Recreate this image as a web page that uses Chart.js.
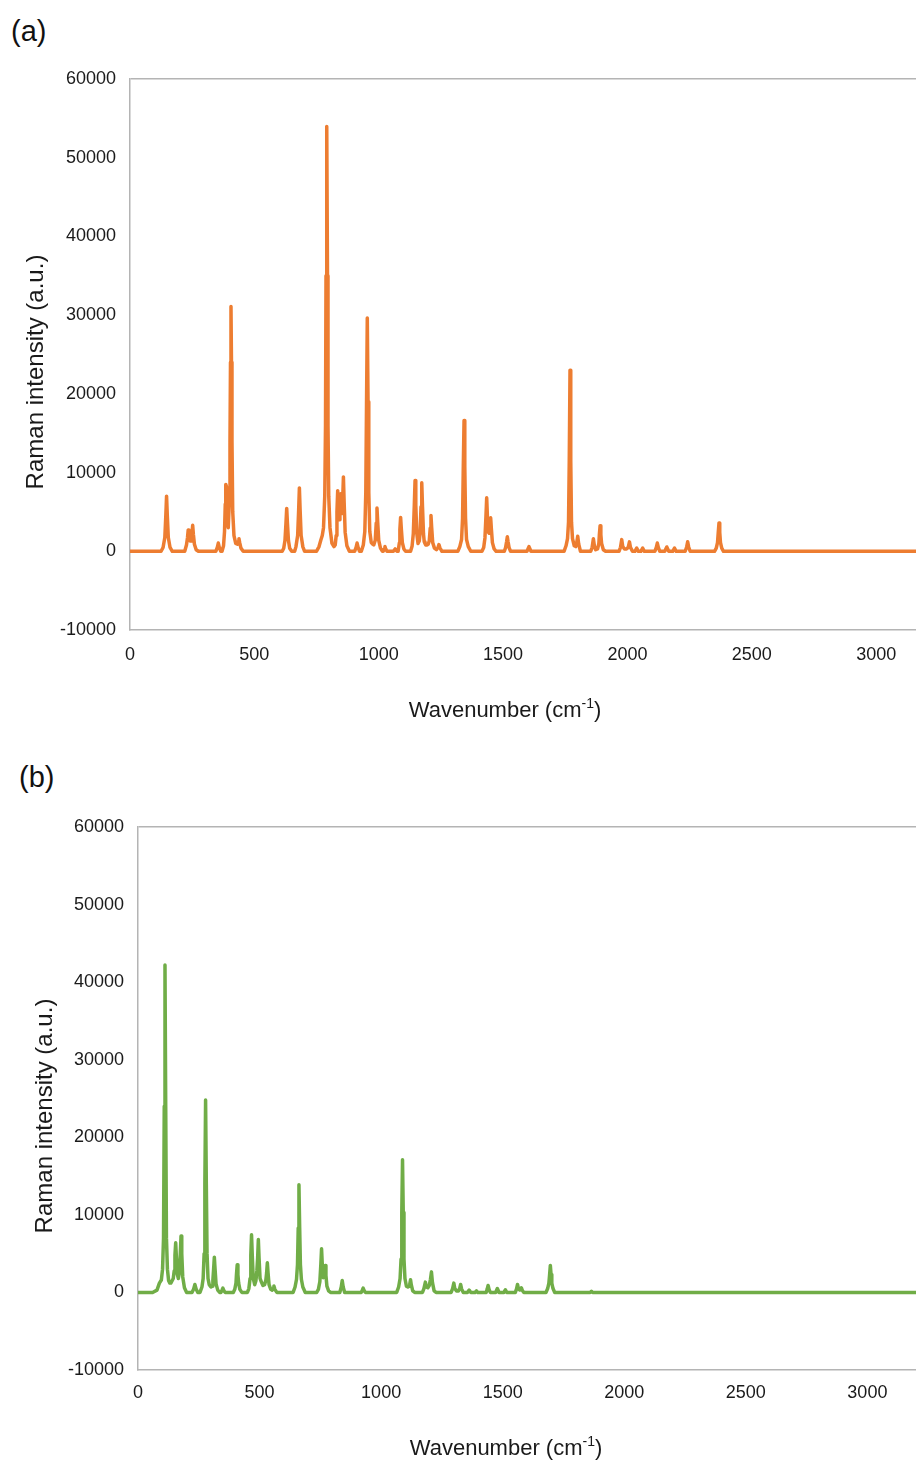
<!DOCTYPE html>
<html>
<head>
<meta charset="utf-8">
<script src="https://cdn.jsdelivr.net/npm/chart.js@4.4.1/dist/chart.umd.min.js"></script>
<style>
  html, body { margin: 0; padding: 0; background: #fff; }
  body { width: 916px; height: 1465px; position: relative; overflow: hidden; font-family: "Liberation Sans", Arial, sans-serif; }
  .panel { position: absolute; left: 0; width: 916px; }
  .tag { position: absolute; font-size: 29px; color: #111; line-height: 1; }
</style>
</head>
<body>
<div class="tag" style="left:11px; top:17px;">(a)</div>
<div class="tag" style="left:19px; top:763px;">(b)</div>
<div class="panel" style="top:0; height:735px;"><canvas id="chartA"></canvas></div>
<div class="panel" style="top:735px; height:730px;"><canvas id="chartB"></canvas></div>
<script>
// Spectrum (a): wavenumber (cm-1) and Raman intensity (a.u.)
const wavenumberA = [
  0, 125, 133, 140, 144, 147, 150, 154, 161, 170,
  220, 227, 231, 234, 237, 242, 246, 249, 252, 255, 259, 266, 275,
  345, 351, 355, 359, 365,
  370, 376, 380, 383, 385, 388, 391, 395, 399, 402, 404, 406, 408, 410, 413, 418, 425, 432, 435, 438, 441, 446, 455,
  612, 618, 623, 627, 630, 633, 637, 642, 650,
  662, 667, 674, 678, 681, 684, 688, 695, 702,
  750, 760, 767, 773, 778, 783, 786, 788, 791, 794, 796, 799, 804, 812, 820,
  825, 829, 832, 835, 838, 841, 844, 847, 850, 852, 855, 858, 861, 865, 872, 882,
  903, 909, 913, 917, 923,
  930, 938, 944, 948, 951, 954, 957, 960, 964, 970, 976,
  980, 986, 990, 993, 996, 1000, 1007, 1015,
  1018, 1022, 1025, 1028, 1033,
  1059, 1066, 1073,
  1078, 1083, 1085, 1088, 1091, 1095, 1101, 1108,
  1128, 1134, 1139, 1143, 1146, 1149, 1153, 1158, 1163, 1166, 1170, 1173, 1176, 1180, 1183, 1186, 1189, 1192, 1195, 1199, 1203, 1207, 1210, 1213, 1217, 1224, 1232, 1238, 1242, 1246, 1254,
  1318, 1326, 1333, 1337, 1340, 1343, 1346, 1349, 1353, 1360, 1370,
  1415, 1422, 1427, 1431, 1434, 1437, 1441, 1444, 1447, 1450, 1453, 1457, 1464, 1472,
  1505, 1510, 1514, 1517, 1520, 1524, 1530,
  1596, 1600, 1604, 1608, 1612,
  1745, 1753, 1759, 1763, 1766, 1769, 1772, 1775, 1779, 1786, 1792,
  1795, 1800, 1804, 1811,
  1852, 1858, 1863, 1867, 1872,
  1880, 1885, 1887, 1890, 1893, 1896, 1903, 1912,
  1966, 1972, 1977, 1981, 1988, 1996, 2003, 2008, 2012, 2020,
  2030, 2037, 2044,
  2054, 2061, 2068,
  2110, 2116, 2120, 2124, 2130,
  2150, 2158, 2166,
  2182, 2189, 2196,
  2232, 2238, 2242, 2246, 2252,
  2350, 2357, 2362, 2365, 2368, 2371, 2374, 2379, 2386,
  3250
];
const intensityA = [
  0, 0, 490, 1750, 4550, 7000, 4550, 1750, 490, 0,
  0, 800, 1700, 2700, 1700, 1300, 1300, 2200, 3300, 2100, 900, 200, 0,
  0, 500, 1050, 500, 0,
  0, 700, 2500, 6000, 8500, 8200, 5000, 3000, 6000, 14000, 24000, 31100, 24000, 14000, 5000, 2000, 1000, 900, 1200, 1600, 1100, 400, 0,
  0, 380, 1360, 3540, 5450, 3540, 1360, 380, 0,
  0, 560, 2000, 5200, 8050, 5200, 2000, 560, 0,
  0, 600, 1400, 2000, 3000, 7000, 16000, 35000, 53950, 35000, 16000, 7000, 3000, 1000, 600,
  800, 2000, 5000, 7700, 5000, 4000, 5000, 7300, 5000, 4800, 6500, 9450, 6200, 2400, 700, 0,
  0, 500, 1050, 500, 0,
  0, 800, 2500, 7500, 19000, 29650, 19000, 7500, 2500, 1100, 900,
  800, 1400, 3600, 5500, 3600, 1400, 400, 0,
  0, 300, 600, 300, 0,
  0, 300, 0,
  0, 1100, 2800, 4300, 2800, 1100, 300, 0,
  0, 630, 2250, 5850, 9000, 5850, 2250, 1000, 1300, 2200, 5650, 8700, 5650, 2200, 1200, 1000, 800, 900, 800, 900, 1300, 2950, 4550, 2950, 1100, 400, 200, 450, 850, 450, 0,
  0, 600, 1500, 4200, 10800, 16600, 10800, 4200, 1500, 600, 0,
  0, 480, 1700, 4400, 6800, 4400, 2400, 2300, 3000, 4250, 2800, 1100, 300, 0,
  0, 460, 1200, 1850, 1200, 460, 0,
  0, 300, 600, 300, 0,
  0, 700, 1600, 3700, 11500, 23000, 11500, 3700, 1600, 700, 600,
  900, 1900, 900, 0,
  0, 500, 1600, 700, 200,
  300, 1000, 2100, 3250, 2100, 1000, 200, 0,
  0, 500, 1480, 600, 300, 300, 500, 1200, 500, 0,
  0, 400, 0,
  0, 400, 0,
  0, 500, 1050, 500, 0,
  0, 550, 0,
  0, 400, 0,
  0, 550, 1200, 550, 0,
  0, 400, 1100, 2400, 3600, 2400, 1100, 400, 0,
  0
];

// Spectrum (b): wavenumber (cm-1) and Raman intensity (a.u.)
const wavenumberB = [
  0, 60, 78, 88, 96, 101, 105, 108, 111, 114, 117, 121, 126, 131,
  135, 145, 149, 152, 155, 158, 162, 166, 170, 174, 177, 180, 184, 191, 200,
  222, 229, 234, 239, 246,
  255, 263, 268, 272, 275, 278, 281, 284, 288, 293, 300,
  305, 308, 311, 314, 317, 321, 328, 336,
  341, 345, 349, 353, 358,
  392, 398, 403, 405, 408, 411, 414, 419, 427,
  450, 456, 461, 464, 467, 470, 474, 480, 485, 489, 492, 495, 498, 502, 508, 514, 521, 526, 529, 532, 535, 539, 546, 552, 556, 559, 563, 571,
  638, 646, 652, 656, 659, 662, 665, 668, 672, 678, 688,
  735, 742, 748, 752, 755, 758, 762, 766, 768, 770, 773, 777, 784, 792,
  830, 836, 840, 844, 850,
  918, 922, 926, 930, 935,
  1064, 1072, 1078, 1082, 1085, 1088, 1091, 1094, 1098, 1104, 1110,
  1115, 1118, 1121, 1124, 1130, 1138,
  1170, 1176, 1182, 1186, 1192, 1198, 1203, 1207, 1211, 1218, 1226,
  1288, 1294, 1299, 1303, 1310, 1318, 1323, 1327, 1331, 1338,
  1355, 1362, 1369,
  1386, 1392, 1398,
  1432, 1436, 1440, 1444, 1449,
  1471, 1478, 1485,
  1505, 1511, 1517,
  1552, 1557, 1561, 1565, 1570, 1574, 1577, 1581, 1587,
  1678, 1685, 1690, 1693, 1696, 1699, 1702, 1707, 1714,
  1860, 1865, 1870,
  3250
];
const intensityB = [
  0, 0, 300, 1200, 1600, 3000, 7000, 24000, 42200, 24000, 7000, 3000, 1500, 1200,
  1200, 1800, 2800, 4800, 6400, 4500, 2300, 1800, 2500, 5000, 7260, 5000, 2000, 600, 0,
  0, 450, 1030, 450, 0,
  0, 700, 1800, 5000, 14000, 24800, 14000, 5000, 1800, 1000, 700,
  800, 1600, 3000, 4550, 3000, 1100, 300, 0,
  0, 250, 550, 250, 0,
  0, 400, 1200, 2300, 3560, 2300, 1200, 400, 0,
  0, 500, 1800, 4800, 7430, 4800, 1800, 1000, 1500, 2800, 4400, 6830, 4400, 1800, 1300, 900, 1000, 1600, 2500, 3820, 2500, 1000, 400, 300, 500, 820, 400, 0,
  0, 700, 1700, 3600, 8300, 13870, 8300, 3600, 1700, 700, 0,
  0, 400, 1400, 3600, 5620, 3600, 1900, 2000, 2700, 3480, 2200, 800, 200, 0,
  0, 700, 1550, 700, 0,
  0, 250, 550, 250, 0,
  0, 700, 1800, 4300, 10300, 17100, 10300, 4300, 1800, 800, 700,
  800, 1100, 1630, 1000, 200, 0,
  0, 500, 1330, 700, 600, 900, 1700, 2650, 1300, 200, 0,
  0, 500, 1200, 500, 200, 200, 500, 1030, 450, 0,
  0, 300, 0,
  0, 200, 0,
  0, 400, 900, 400, 0,
  0, 500, 0,
  0, 350, 0,
  0, 450, 1030, 450, 300, 350, 600, 250, 0,
  0, 500, 1200, 2300, 3480, 2300, 1200, 500, 0,
  0, 150, 0,
  0
];

// Axis ticks shared by both panels
const yTicks = [-10000, 0, 10000, 20000, 30000, 40000, 50000, 60000];
const xTicks = [0, 500, 1000, 1500, 2000, 2500, 3000];

const FONT = "'Liberation Sans', Arial, sans-serif";
const AXIS_GREY = '#b4b4b4';
const TEXT = '#1a1a1a';

// Axis titles drawn on the canvas; the x title carries a superscript.
const axisTitlePlugin = {
  id: 'axisTitles',
  afterDraw(chart, args, opts) {
    const ctx = chart.ctx;
    ctx.save();
    ctx.fillStyle = TEXT;
    ctx.textBaseline = 'middle';
    // y title, rotated
    ctx.font = `${opts.ySize}px ${FONT}`;
    ctx.translate(opts.yTitle.x, opts.yTitle.y);
    ctx.rotate(-Math.PI / 2);
    ctx.textAlign = 'center';
    ctx.fillText('Raman intensity (a.u.)', 0, 0);
    ctx.restore();
    ctx.save();
    ctx.fillStyle = TEXT;
    ctx.textBaseline = 'middle';
    // x title with superscript
    const big = `${opts.xSize}px ${FONT}`;
    const small = `${Math.round(opts.xSize * 0.62)}px ${FONT}`;
    const parts = [['Wavenumber (cm', big, 0], ['-1', small, -opts.xSize * 0.32], [')', big, 0]];
    let total = 0;
    parts.forEach(p => { ctx.font = p[1]; total += ctx.measureText(p[0]).width; });
    let x = opts.xTitle.x - total / 2;
    ctx.textAlign = 'left';
    parts.forEach(p => {
      ctx.font = p[1];
      ctx.fillText(p[0], x, opts.xTitle.y + p[2]);
      x += ctx.measureText(p[0]).width;
    });
    ctx.restore();
  }
};

function makeChart(id, xs, ys, color, layout) {
  const points = xs.map((x, i) => ({ x: x, y: ys[i] }));
  return new Chart(document.getElementById(id), {
    type: 'line',
    data: {
      datasets: [{
        data: points,
        borderColor: color,
        borderWidth: 3.5,
        pointRadius: 0,
        tension: 0,
        borderJoinStyle: 'round',
        borderCapStyle: 'round',
        fill: false
      }]
    },
    plugins: [axisTitlePlugin],
    options: {
      responsive: true,
      maintainAspectRatio: false,
      animation: false,
      events: [],
      layout: { padding: { top: layout.top, bottom: layout.bottom, left: 0, right: 0 } },
      plugins: {
        legend: { display: false },
        tooltip: { enabled: false },
        axisTitles: { xSize: 22, ySize: 24, yTitle: layout.yTitle, xTitle: layout.xTitle }
      },
      scales: {
        x: {
          type: 'linear',
          min: 0,
          max: layout.xMax,
          afterBuildTicks: s => { s.ticks = xTicks.map(v => ({ value: v })); },
          afterFit: s => { s.height = layout.xHeight; },
          grid: { display: false, drawTicks: false },
          border: { display: true, color: AXIS_GREY, width: 1.5 },
          ticks: { padding: layout.xPad, maxRotation: 0, color: TEXT, font: { family: FONT, size: 18 }, callback: v => String(v) }
        },
        y: {
          type: 'linear',
          min: yTicks[0],
          max: yTicks[yTicks.length - 1],
          afterBuildTicks: s => { s.ticks = yTicks.map(v => ({ value: v })); },
          afterFit: s => { s.width = layout.yWidth; },
          grid: {
            drawTicks: false,
            lineWidth: 1.5,
            color: c => (c.tick && c.tick.value === yTicks[yTicks.length - 1]) ? AXIS_GREY : 'rgba(0,0,0,0)'
          },
          border: { display: true, color: AXIS_GREY, width: 1.5 },
          ticks: { padding: 14, color: TEXT, font: { family: FONT, size: 18 }, callback: v => String(v) }
        }
      }
    }
  });
}

makeChart('chartA', wavenumberA, intensityA, '#ED7D31', {
  top: 79, bottom: 65, xHeight: 40, yWidth: 130, xMax: 3160, xPad: 14,
  yTitle: { x: 36, y: 372 }, xTitle: { x: 505, y: 711 }
});
makeChart('chartB', wavenumberB, intensityB, '#70AD47', {
  top: 92, bottom: 55, xHeight: 40, yWidth: 138, xMax: 3200, xPad: 12,
  yTitle: { x: 45, y: 381 }, xTitle: { x: 506, y: 714 }
});
</script>
</body>
</html>
